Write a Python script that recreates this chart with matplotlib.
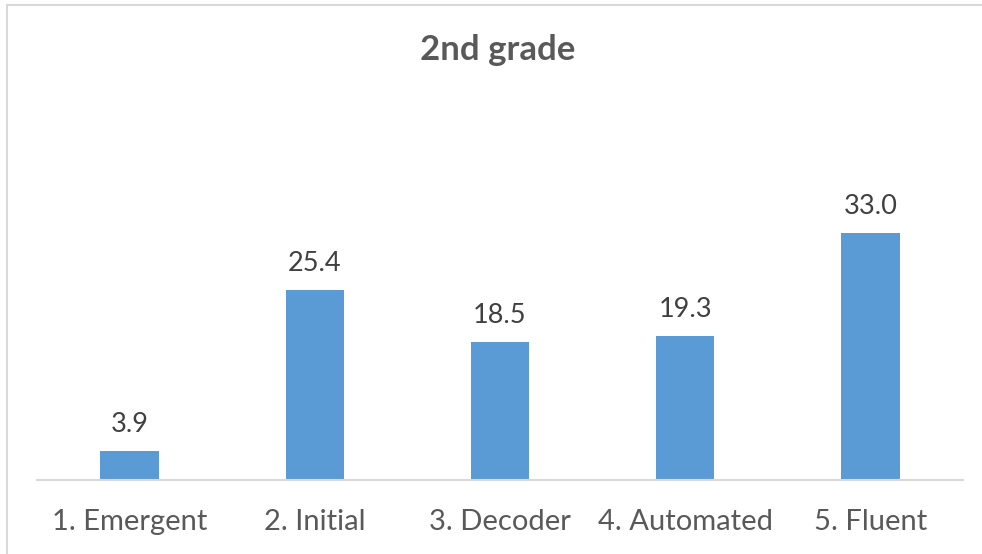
import matplotlib.pyplot as plt
from matplotlib.lines import Line2D

# 数据
categories = ["1. Emergent", "2. Initial", "3. Decoder", "4. Automated", "5. Fluent"]
values = [3.9, 25.4, 18.5, 19.3, 33.0]
title = "2nd grade"

W, H = 982, 554
fig = plt.figure(figsize=(W / 100, H / 100), dpi=100)

# 坐标区位置 (像素 -> 比例)
left, right, base = 37, 963, 480
ymax = 40
px_per_unit = (480 - 233) / 33.0
top = base - ymax * px_per_unit
ax = fig.add_axes([left / W, 1 - base / H, (right - left) / W, (base - top) / H])

x = range(len(categories))
ax.bar(x, values, width=0.315, color="#5B9BD5")
ax.set_xlim(-0.5, len(categories) - 0.5)
ax.set_ylim(0, ymax)

for i, v in zip(x, values):
    ax.text(i, v + 19 / px_per_unit, f"{v:.1f}", ha="center", va="baseline",
            fontsize=19.5, color="#404040", family="Lato")

ax.set_xticks(list(x))
ax.set_xticklabels(categories, fontsize=21, color="#595959", family="Lato")
ax.tick_params(axis="x", length=0, pad=21)
ax.set_yticks([])
for s in ["top", "right", "left"]:
    ax.spines[s].set_visible(False)
ax.spines["bottom"].set_color("#D9D9D9")
ax.spines["bottom"].set_linewidth(1.5)

fig.text(498 / W, 1 - 50 / H, title, ha="center", va="center",
         fontsize=25, fontweight="bold", color="#595959", family="Lato")

# 外边框
fig.add_artist(Line2D([7 / W, 7 / W], [0, 1 - 5 / H], color="#D9D9D9", lw=1.5))
fig.add_artist(Line2D([7 / W, 1], [1 - 5 / H, 1 - 5 / H], color="#D9D9D9", lw=1.5))

fig.savefig("out.png", dpi=100)
